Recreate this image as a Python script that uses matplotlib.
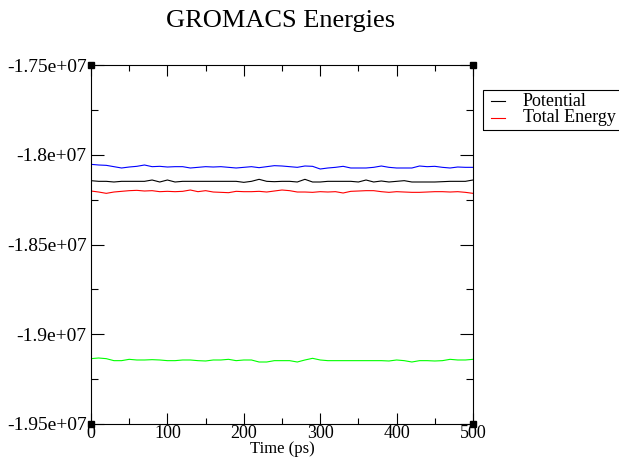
import matplotlib
matplotlib.use('Agg')
import matplotlib.pyplot as plt
from matplotlib.patches import Rectangle
from matplotlib.ticker import MultipleLocator

plt.rcParams['font.family'] = ['Liberation Serif', 'DejaVu Serif']

# time axis, every 10 ps
time_ps = list(range(0, 501, 10))

# energies (kJ/mol)
blue = [-18053400, -18057100, -18059000, -18066400, -18073800, -18068300, -18064500, -18057100,
        -18066400, -18064500, -18068300, -18066400, -18066400, -18073800, -18070100, -18066400,
        -18068300, -18066400, -18070100, -18073800, -18070100, -18066400, -18072000, -18066400,
        -18060800, -18062700, -18066400, -18070100, -18062700, -18064500, -18079400, -18073800,
        -18070100, -18064500, -18073800, -18073800, -18073800, -18070100, -18062700, -18070100,
        -18073800, -18073800, -18073800, -18062700, -18066400, -18064500, -18070100, -18073800,
        -18068300, -18070100, -18070100]

potential = [-18144400, -18148100, -18148100, -18151800, -18148100, -18148100, -18148100, -18148100,
             -18140700, -18151800, -18140700, -18151800, -18148100, -18148100, -18148100, -18148100,
             -18148100, -18148100, -18148100, -18148100, -18153700, -18148100, -18136900, -18148100,
             -18150000, -18148100, -18148100, -18151800, -18136900, -18151800, -18151800, -18148100,
             -18148100, -18148100, -18148100, -18151800, -18140700, -18151800, -18146200, -18151800,
             -18148100, -18144400, -18151800, -18151800, -18151800, -18151800, -18150000, -18148100,
             -18148100, -18148100, -18140700]

total_energy = [-18202000, -18207600, -18215000, -18207600, -18203800, -18200100, -18198300, -18202000,
                -18200100, -18205700, -18203800, -18205700, -18203800, -18196400, -18205700, -18200100,
                -18207600, -18209400, -18211300, -18203800, -18205700, -18205700, -18203800, -18207600,
                -18202000, -18196400, -18200100, -18207600, -18207600, -18209400, -18205700, -18207600,
                -18205700, -18213100, -18203800, -18202000, -18200100, -18200100, -18205700, -18209400,
                -18205700, -18207600, -18209400, -18209400, -18207600, -18205700, -18205700, -18207600,
                -18205700, -18209400, -18215000]

green = [-19136000, -19132300, -19136000, -19147100, -19147100, -19139700, -19143400, -19143400,
         -19141600, -19143400, -19147100, -19147100, -19143400, -19143400, -19147100, -19149000,
         -19143400, -19143400, -19139700, -19147100, -19143400, -19143400, -19154600, -19154600,
         -19147100, -19147100, -19147100, -19154600, -19143400, -19134100, -19143400, -19147100,
         -19147100, -19147100, -19147100, -19147100, -19147100, -19147100, -19147100, -19149000,
         -19143400, -19147100, -19154600, -19147100, -19147100, -19149000, -19147100, -19139700,
         -19143400, -19143400, -19139700]

y_ticks = [-1.95e7, -1.9e7, -1.85e7, -1.8e7, -1.75e7]
y_labels = ['-1.95e+07', '-1.9e+07', '-1.85e+07', '-1.8e+07', '-1.75e+07']

fig = plt.figure(figsize=(6.19, 4.57), dpi=100)
ax = fig.add_axes([91 / 619, 33 / 457, 382 / 619, 359 / 457])

ax.plot(time_ps, potential, color='black', lw=0.8, label='Potential')
ax.plot(time_ps, total_energy, color='red', lw=0.8, label='Total Energy')
ax.plot(time_ps, blue, color='blue', lw=0.8)
ax.plot(time_ps, green, color='#00ff00', lw=0.8)

ax.set_xlim(0, 500)
ax.set_ylim(-1.95e7, -1.75e7)
ax.xaxis.set_major_locator(MultipleLocator(100))
ax.xaxis.set_minor_locator(MultipleLocator(50))
ax.set_yticks(y_ticks)
ax.set_yticklabels(y_labels)
ax.yaxis.set_minor_locator(MultipleLocator(2.5e5))

ax.tick_params(which='both', direction='in', top=True, right=True, width=0.8, labelsize=14)
ax.tick_params(axis='x', which='major', length=8, pad=1, labelsize=13)
ax.tick_params(axis='x', which='minor', length=4.5)
ax.tick_params(axis='y', which='major', length=9.5, pad=3)
ax.tick_params(axis='y', which='minor', length=5)
for s in ax.spines.values():
    s.set_linewidth(0.8)

fig.text(282 / 619, 1 - 449 / 457, 'Time (ps)', ha='center', va='center', fontsize=12)
fig.text(281 / 619, 1 - 21 / 457, 'GROMACS Energies', ha='center', va='center', fontsize=19)

# little black squares at the corners, as grace draws them
ax.plot([0, 1, 0, 1], [0, 0, 1, 1], 's', color='black', ms=4, transform=ax.transAxes, clip_on=False)

# legend box, runs off the right edge
fig.patches.append(Rectangle((483 / 619, 1 - 130 / 457), 160 / 619, 40 / 457,
                             transform=fig.transFigure, fill=False, lw=0.8, ec='black'))
for y, color, name in [(101, 'black', 'Potential'), (118, 'red', 'Total Energy')]:
    yy = 1 - y / 457
    fig.add_artist(plt.Line2D([491 / 619, 505 / 619], [yy, yy], color=color, lw=0.8,
                              transform=fig.transFigure))
    fig.text(523 / 619, yy, name, va='center', ha='left', fontsize=13)

plt.savefig('out.png', dpi=100)
